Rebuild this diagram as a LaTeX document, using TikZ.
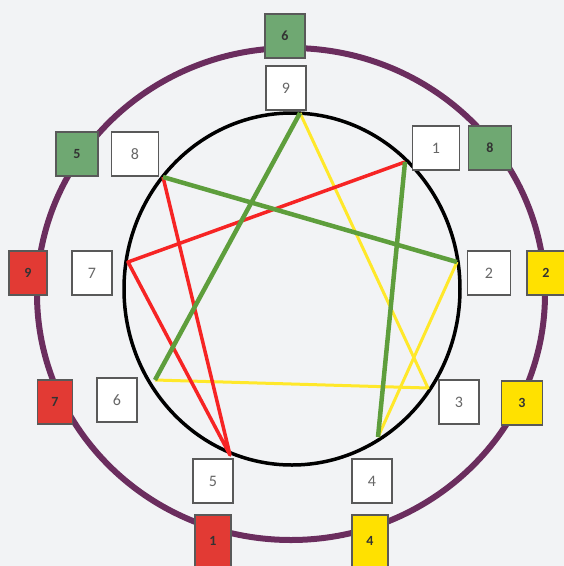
\documentclass[tikz,border=0pt]{standalone}
\usepackage{fontspec}
\setmainfont{Carlito}
\definecolor{paper}{HTML}{F2F3F5}
\definecolor{ringpurple}{HTML}{6B2D5E}
\definecolor{boxgreen}{HTML}{6FA872}
\definecolor{boxred}{HTML}{E23A34}
\definecolor{boxyellow}{HTML}{FFE100}
\definecolor{linegreen}{HTML}{5E9E3C}
\definecolor{linered}{HTML}{F62424}
\definecolor{lineyellow}{HTML}{FFE82A}

\begin{document}
\begin{tikzpicture}[x=1pt,y=-1pt,
  numbox/.style={draw=black!65, line width=1.3pt, fill=white, minimum width=40pt, minimum height=44pt,
    inner sep=0pt, text=black!60, font=\fontsize{16}{16}\selectfont},
  greenbox/.style={numbox, fill=boxgreen, text=black!80, font=\fontsize{14}{14}\selectfont\bfseries},
  redbox/.style={greenbox, fill=boxred},
  yellowbox/.style={greenbox, fill=boxyellow}]
  \fill [paper] (0,0) rectangle (564,566);
  \useasboundingbox (0,0) rectangle (564,566);
  \draw [ringpurple, line width=6pt] (291,294) ellipse [x radius=254, y radius=246];
  \draw [black, line width=3.5pt]    (292,289) ellipse [x radius=168, y radius=176];
  % points on the inner circle
  \coordinate (p9) at (300,113);
  \coordinate (p1) at (405,162);
  \coordinate (p2) at (457,262);
  \coordinate (p3) at (428,388);
  \coordinate (p4) at (378,437);
  \coordinate (p5) at (230,455);
  \coordinate (p6) at (155,380);
  \coordinate (p7) at (128,262);
  \coordinate (p8) at (163,177);
  \draw [lineyellow, line width=3pt, line join=round] (p9) -- (p3) -- (p6);
  \draw [lineyellow, line width=3pt] (p2) -- (p4);
  \draw [linered, line width=3.5pt, line join=round] (p1) -- (p7) -- (p5) -- (p8);
  \draw [linegreen, line width=4.5pt] (p6) -- (p9);
  \draw [linegreen, line width=4.5pt] (p8) -- (p2);
  \draw [linegreen, line width=4.5pt] (p1) -- (p4);
  % inner numbers
  \node [numbox] (n9) at (286,88)  {9};
  \node [numbox, minimum width=47pt] (n8) at (135,154) {8};
  \node [numbox, minimum width=47pt] (n1) at (436,148) {1};
  \node [numbox] (n7) at (92,273)  {7};
  \node [numbox, minimum width=43pt] (n2) at (489,273) {2};
  \node [numbox] (n6) at (117,400) {6};
  \node [numbox] (n3) at (459,402) {3};
  \node [numbox] (n5) at (213,481) {5};
  \node [numbox] (n4) at (372,481) {4};
  % outer numbers
  \node [greenbox] (g6) at (285,36)  {6};
  \node [greenbox, minimum width=42pt] (g5) at (77,154)  {5};
  \node [greenbox, minimum width=43pt] (g8) at (490,148) {8};
  \node [redbox, minimum width=38pt]   (r9) at (28,273)  {9};
  \node [yellowbox, minimum width=38pt] (y2) at (546,273) {2};
  \node [redbox, minimum width=35pt]   (r7) at (55,402)  {7};
  \node [yellowbox, minimum width=41pt] (y3) at (522,403) {3};
  \node [redbox, minimum width=36pt, minimum height=52pt]    (r1) at (213,541) {1};
  \node [yellowbox, minimum width=36pt, minimum height=52pt] (y4) at (370,541) {4};
\end{tikzpicture}
\end{document}
